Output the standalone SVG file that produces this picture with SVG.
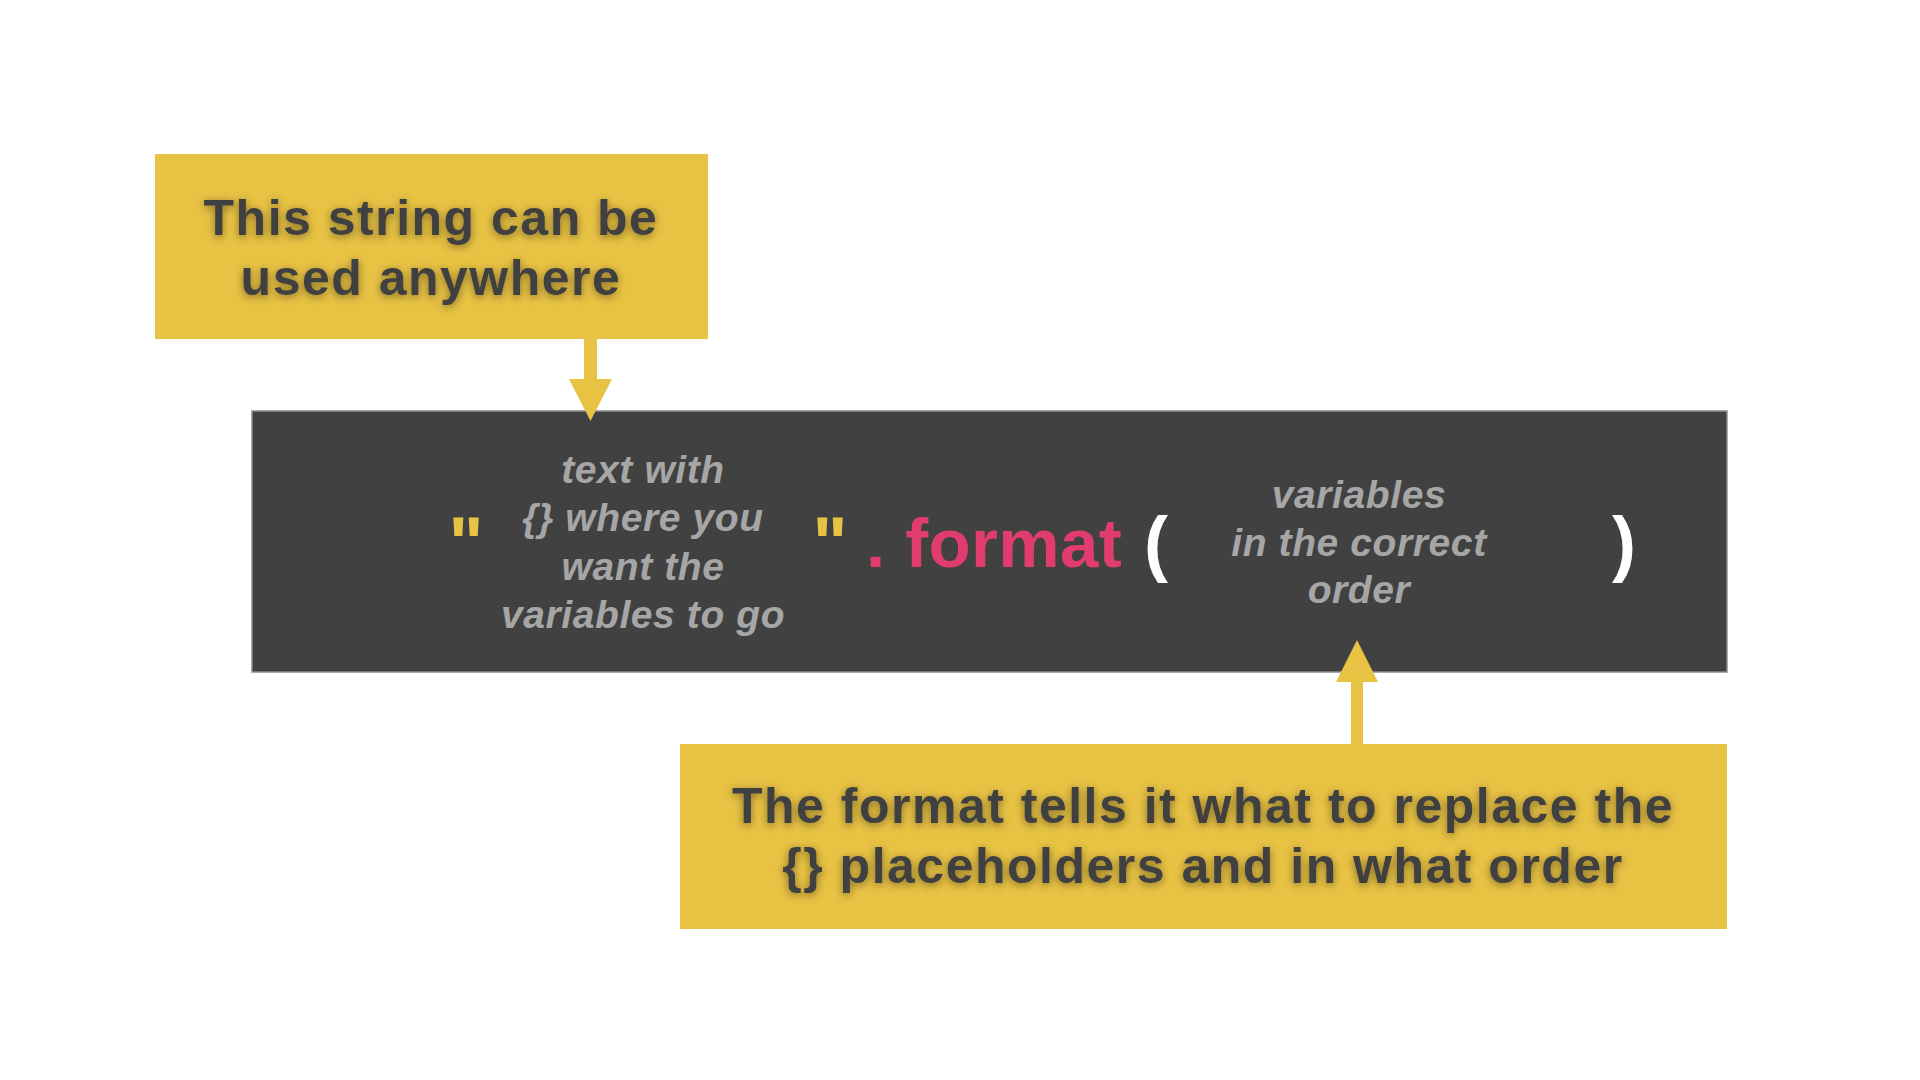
<svg xmlns="http://www.w3.org/2000/svg" width="1920" height="1080" viewBox="0 0 1920 1080">
<defs>
<filter id="glow" x="-10%" y="-30%" width="120%" height="160%">
<feDropShadow dx="0" dy="2" stdDeviation="4" flood-color="#000" flood-opacity="0.45"/>
</filter>
</defs>
<style>
.ybox{fill:#e8c243;}
.dark{fill:#414141;stroke:#8c8c8c;stroke-width:1.5;}
.label{font-family:"Liberation Sans",Arial,sans-serif;font-weight:bold;font-size:50px;letter-spacing:1.5px;fill:#404040;text-anchor:middle;filter:url(#glow);}
.code{font-family:"Liberation Sans",Arial,sans-serif;font-weight:bold;font-style:italic;font-size:39px;letter-spacing:0.6px;fill:#a6a6a6;text-anchor:middle;}
.quote{font-family:"Liberation Sans",Arial,sans-serif;font-weight:bold;font-size:74px;fill:#e8c243;text-anchor:middle;}
.fmt{font-family:"Liberation Sans",Arial,sans-serif;font-weight:bold;font-size:69px;letter-spacing:0.4px;fill:#e03c6e;}
.paren{font-family:"Liberation Sans",Arial,sans-serif;font-weight:bold;font-size:72px;fill:#ffffff;text-anchor:middle;}
.arrow{fill:#e8c243;}
</style>
<rect width="1920" height="1080" fill="#ffffff"/>
<g id="code-box">
<rect class="dark" x="252" y="411" width="1475" height="261"/>
<text class="quote" x="466" y="569">"</text>
<text class="code" x="643" y="483">text with</text>
<text class="code" x="643" y="531">{} where you</text>
<text class="code" x="643" y="580">want the</text>
<text class="code" x="643" y="628">variables to go</text>
<text class="quote" x="830" y="569">"</text>
<text class="fmt" x="866" y="567">. format</text>
<text class="paren" x="1156" y="568">(</text>
<text class="code" x="1359" y="508">variables</text>
<text class="code" x="1359" y="556">in the correct</text>
<text class="code" x="1359" y="603">order</text>
<text class="paren" x="1624" y="568">)</text>
</g>
<g id="note-string">
<rect class="ybox" x="155" y="154" width="553" height="185"/>
<text class="label" x="431" y="235">This string can be</text>
<text class="label" x="431" y="295">used anywhere</text>
</g>
<g id="note-format">
<rect class="ybox" x="680" y="744" width="1047" height="185"/>
<text class="label" x="1203" y="823">The format tells it what to replace the</text>
<text class="label" x="1203" y="883">{} placeholders and in what order</text>
</g>
<g id="connectors">
<rect class="arrow" x="584" y="339" width="13" height="42"/>
<polygon class="arrow" points="569,379 612,379 590.5,421"/>
<rect class="arrow" x="1351" y="680" width="12" height="64"/>
<polygon class="arrow" points="1336,682 1378,682 1357,640"/>
</g>
</svg>
